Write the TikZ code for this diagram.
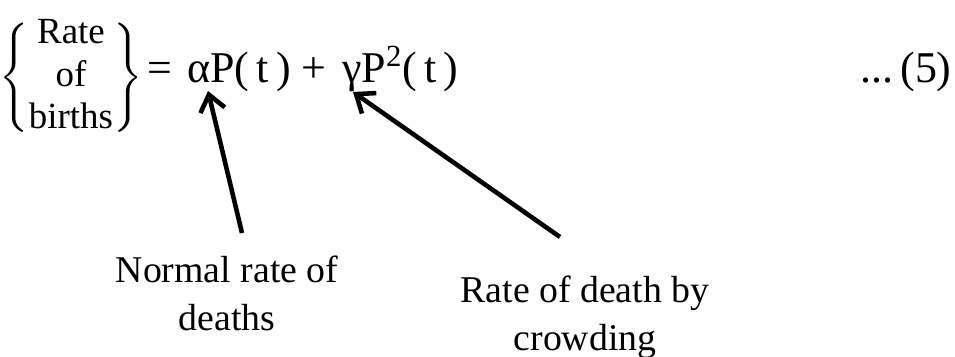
\documentclass[tikz,border=0pt]{standalone}
\usepackage{amsmath}
\usepackage{fontspec}
\setmainfont{Liberation Serif}
\usetikzlibrary{arrows.meta,positioning}

\begin{document}
\begin{tikzpicture}[>={Straight Barb[length=3.2mm,width=5mm]},
  lbl/.style={font=\fontsize{21.5}{27.2}\selectfont,align=center,inner sep=0pt},
  eqn/.style={font=\fontsize{25}{30}\selectfont,inner sep=0pt,anchor=base west},
  ptr/.style={->,line width=2.6pt}]
\useasboundingbox (0,0) rectangle (19.1,-7.12);
% equation
\node[inner sep=0pt,font=\fontsize{21}{24.4}\selectfont] (lhs) at (1.42,-1.55)
  {\arraycolsep=1pt\delimiterfactor=780\delimitershortfall=16pt
   $\begin{Bmatrix}\text{Rate}\\ \text{of}\\ \text{births}\end{Bmatrix}$};
\node[eqn] (eq) at (2.94,-1.64) {=};
\node[eqn] (aterm) at (3.74,-1.64) {αP(\,t\,) +};
\node[eqn] (gterm) at (6.84,-1.64) {γP\textsuperscript{2}(\,t\,)};
\node[eqn,anchor=base east] (num) at (19.04,-1.64) {...\,(5)};
% labels
\node[lbl,anchor=north] (normal) at (4.54,-5.12) {Normal rate of\\deaths};
\node[lbl,anchor=north] (crowd) at (11.7,-5.52) {Rate of death by\\crowding};
\coordinate (atip) at (4.16,-1.82);
\coordinate (atail) at (4.84,-4.66);
\coordinate (gtip) at (7.06,-1.84);
\coordinate (gtail) at (11.2,-4.74);
\draw[ptr] (atail) -- (atip);
\draw[ptr] (gtail) -- (gtip);
\end{tikzpicture}
\end{document}
